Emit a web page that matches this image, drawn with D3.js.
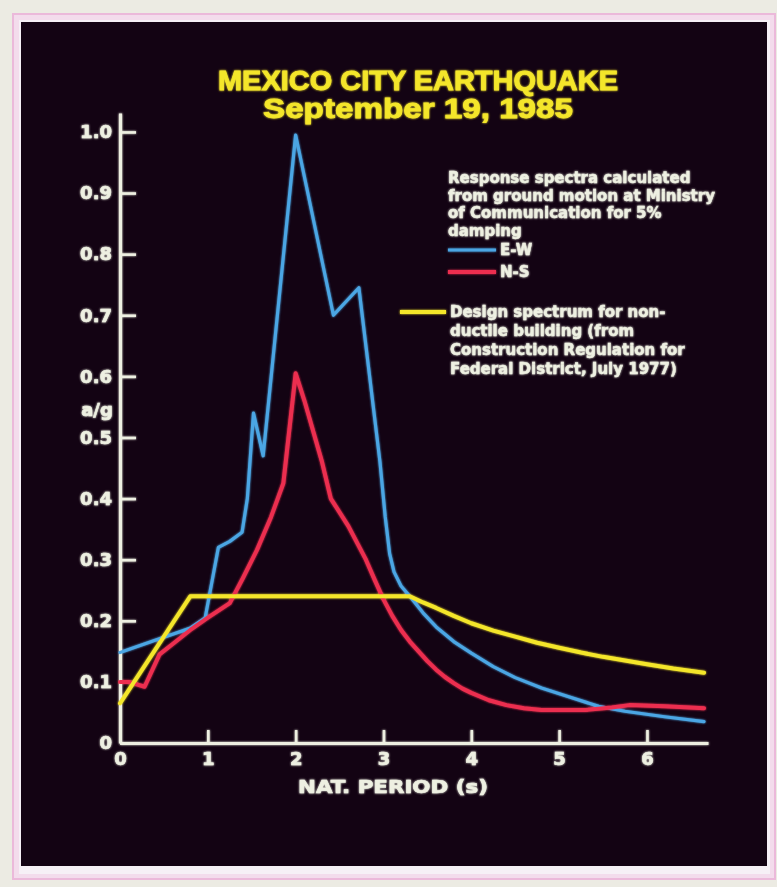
<!DOCTYPE html>
<html>
<head>
<meta charset="utf-8">
<script src="https://cdn.jsdelivr.net/npm/d3@7"></script>
<style>
  body { margin: 0; background: #ecebe3; }
  svg { display: block; }
</style>
</head>
<body>
<div id="chart"></div>
<script>
// response spectra, Mexico City 1985 (period in s, a/g)
var ewPeriod = [0, 0.4, 0.8, 0.97, 1.12, 1.25, 1.39, 1.45, 1.52, 1.63, 2.0, 2.43, 2.72, 2.96, 3.02, 3.07, 3.12, 3.2, 3.3, 3.45, 3.6, 3.8, 4.0, 4.25, 4.5, 4.8, 5.1, 5.45, 5.75, 6.2, 6.65];
var ewValue  = [0.148, 0.168, 0.188, 0.205, 0.32, 0.33, 0.345, 0.40, 0.54, 0.47, 0.995, 0.70, 0.745, 0.46, 0.37, 0.31, 0.28, 0.257, 0.24, 0.213, 0.19, 0.166, 0.147, 0.125, 0.107, 0.09, 0.076, 0.06, 0.052, 0.043, 0.035];

var nsPeriod = [0, 0.1, 0.28, 0.45, 0.6, 0.8, 1.0, 1.25, 1.4, 1.56, 1.72, 1.86, 2.0, 2.1, 2.3, 2.4, 2.6, 2.8, 2.9, 3.0, 3.1, 3.2, 3.3, 3.4, 3.5, 3.6, 3.7, 3.8, 3.9, 4.0, 4.2, 4.4, 4.6, 4.8, 5.3, 5.6, 5.8, 6.2, 6.65];
var nsValue  = [0.10, 0.10, 0.092, 0.145, 0.162, 0.185, 0.205, 0.229, 0.27, 0.316, 0.37, 0.425, 0.605, 0.56, 0.46, 0.40, 0.355, 0.30, 0.267, 0.235, 0.208, 0.185, 0.166, 0.15, 0.134, 0.12, 0.108, 0.098, 0.089, 0.082, 0.07, 0.062, 0.057, 0.054, 0.054, 0.058, 0.062, 0.06, 0.057];

var designPeriod = [0, 0.8, 3.3, 3.45, 3.6, 3.8, 4.0, 4.25, 4.5, 4.75, 5.0, 5.25, 5.5, 5.75, 6.0, 6.3, 6.65];
var designValue  = [0.065, 0.24, 0.24, 0.23, 0.221, 0.208, 0.196, 0.184, 0.174, 0.164, 0.156, 0.148, 0.141, 0.135, 0.129, 0.122, 0.115];

var xTicks = [0, 1, 2, 3, 4, 5, 6];
var yTicks = [0, 0.1, 0.2, 0.3, 0.4, 0.5, 0.6, 0.7, 0.8, 0.9, 1.0];

var titleLines = ["MEXICO CITY EARTHQUAKE", "September 19, 1985"];
var noteLines = ["Response spectra calculated", "from ground motion at Ministry", "of Communication for 5%", "damping"];
var seriesNames = ["E-W", "N-S"];
var designLines = ["Design spectrum for non-", "ductile building (from", "Construction Regulation for", "Federal District, July 1977)"];

var width = 777, height = 887;
var white = "#eef0e2", yellow = "#f4e62c", blue = "#4ba6e4", red = "#ec2f4f";

var svg = d3.select("#chart").append("svg").attr("width", width).attr("height", height);

var defs = svg.append("defs");
var glow = defs.append("filter").attr("id", "glow").attr("x", "-10%").attr("y", "-10%").attr("width", "120%").attr("height", "120%");
glow.append("feGaussianBlur").attr("stdDeviation", 1.1).attr("result", "b");
var merge = glow.append("feMerge");
merge.append("feMergeNode").attr("in", "b");
merge.append("feMergeNode").attr("in", "SourceGraphic");

// frame
svg.append("rect").attr("x", 13).attr("y", 14).attr("width", 762).attr("height", 865)
    .attr("fill", "#f3dcec").attr("stroke", "#ebb9da").attr("stroke-width", 2);
svg.append("rect").attr("x", 19).attr("y", 20).attr("width", 751).attr("height", 854).attr("fill", "#f6f0f6");
svg.append("rect").attr("x", 21).attr("y", 22).attr("width", 746).attr("height", 844).attr("fill", "#130313");

var g = svg.append("g").attr("filter", "url(#glow)");

var x = d3.scaleLinear().domain([0, 6.695]).range([120, 708]);
var y = d3.scaleLinear().domain([0, 1.031]).range([743, 113]);

// title
g.selectAll(".title").data(titleLines).enter().append("text")
    .attr("class", "title")
    .attr("x", 418)
    .attr("y", function(d, i) { return 90 + i * 28; })
    .attr("text-anchor", "middle")
    .attr("font-family", "Liberation Sans, Arial, sans-serif")
    .attr("font-weight", "bold")
    .attr("font-size", 28)
    .attr("fill", yellow)
    .attr("stroke", yellow).attr("stroke-width", 0.8)
    .attr("textLength", function(d, i) { return i == 0 ? 400 : 310; })
    .attr("lengthAdjust", "spacingAndGlyphs")
    .text(function(d) { return d; });

// axes
var xAxis = d3.axisBottom(x).tickValues(xTicks).tickFormat(d3.format("d"))
    .tickSizeInner(-13).tickSizeOuter(0).tickPadding(9);
var yAxis = d3.axisLeft(y).tickValues(yTicks)
    .tickFormat(function(d) { return d == 0 ? "0" : d3.format(".1f")(d); })
    .tickSizeInner(-16).tickSizeOuter(0).tickPadding(8);

var gx = g.append("g").attr("transform", "translate(0,743)").call(xAxis);
var gy = g.append("g").attr("transform", "translate(120,0)").call(yAxis);

[gx, gy].forEach(function(ax) {
    ax.select(".domain").attr("stroke", white).attr("stroke-width", 3.2);
    ax.selectAll(".tick line").attr("stroke", white).attr("stroke-width", 2.6);
    ax.selectAll(".tick text")
        .attr("fill", white)
        .attr("stroke", white).attr("stroke-width", 0.6)
        .attr("font-family", "DejaVu Sans, sans-serif")
        .attr("font-weight", "bold")
        .attr("font-size", 18);
});

g.append("text")
    .attr("x", 393).attr("y", 793)
    .attr("text-anchor", "middle")
    .attr("font-family", "DejaVu Sans, sans-serif")
    .attr("font-weight", "bold")
    .attr("font-size", 18)
    .attr("fill", white)
    .attr("stroke", white).attr("stroke-width", 0.6)
    .attr("textLength", 190).attr("lengthAdjust", "spacingAndGlyphs")
    .text("NAT. PERIOD (s)");

g.append("text")
    .attr("x", 97).attr("y", 416)
    .attr("text-anchor", "middle")
    .attr("font-family", "DejaVu Sans, sans-serif")
    .attr("font-weight", "bold")
    .attr("font-size", 18)
    .attr("fill", white)
    .attr("stroke", white).attr("stroke-width", 0.6)
    .text("a/g");

// curves
var line = d3.line()
    .x(function(d) { return x(d[0]); })
    .y(function(d) { return y(d[1]); });

var series = [
    {name: "E-W", periods: ewPeriod, values: ewValue, color: blue, w: 3.2},
    {name: "N-S", periods: nsPeriod, values: nsValue, color: red, w: 4},
    {name: "design", periods: designPeriod, values: designValue, color: yellow, w: 4}
];

g.selectAll(".curve").data(series).enter().append("path")
    .attr("class", "curve")
    .attr("fill", "none")
    .attr("stroke", function(d) { return d.color; })
    .attr("stroke-width", function(d) { return d.w; })
    .attr("stroke-linejoin", "round")
    .attr("stroke-linecap", "round")
    .attr("d", function(d) { return line(d.periods.map(function(p, i) { return [p, d.values[i]]; })); });

// legend
var legendFont = "DejaVu Sans, sans-serif";
g.selectAll(".note").data(noteLines).enter().append("text")
    .attr("class", "note")
    .attr("x", 448)
    .attr("y", function(d, i) { return 183 + i * 17.5; })
    .attr("font-family", legendFont)
    .attr("font-weight", "bold")
    .attr("font-size", 15)
    .attr("fill", white)
    .attr("stroke", white).attr("stroke-width", 0.4)
    .text(function(d) { return d; });

var key = g.selectAll(".key").data(seriesNames).enter().append("g")
    .attr("class", "key")
    .attr("transform", function(d, i) { return "translate(448," + (250 + i * 22) + ")"; });
key.append("line")
    .attr("x1", 0).attr("x2", 48)
    .attr("stroke", function(d, i) { return series[i].color; })
    .attr("stroke-width", function(d, i) { return series[i].w; });
key.append("text")
    .attr("x", 52).attr("dy", "0.36em")
    .attr("font-family", legendFont)
    .attr("font-weight", "bold")
    .attr("font-size", 15)
    .attr("fill", white)
    .attr("stroke", white).attr("stroke-width", 0.4)
    .text(function(d) { return d; });

g.append("line")
    .attr("x1", 400).attr("x2", 446).attr("y1", 312).attr("y2", 312)
    .attr("stroke", yellow).attr("stroke-width", 4);

g.selectAll(".design").data(designLines).enter().append("text")
    .attr("class", "design")
    .attr("x", 450)
    .attr("y", function(d, i) { return 317 + i * 19; })
    .attr("font-family", legendFont)
    .attr("font-weight", "bold")
    .attr("font-size", 15)
    .attr("fill", white)
    .attr("stroke", white).attr("stroke-width", 0.4)
    .text(function(d) { return d; });
</script>
</body>
</html>
